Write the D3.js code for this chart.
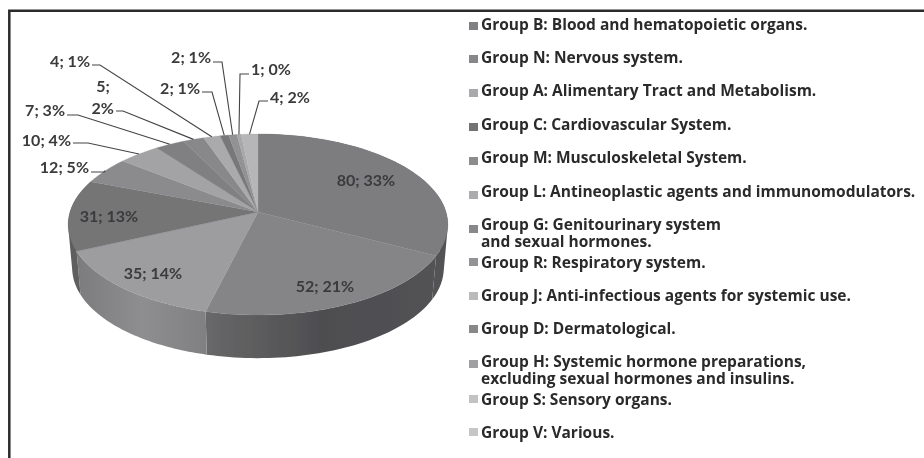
<!DOCTYPE html>
<html><head><meta charset="utf-8">
<script src="https://cdn.jsdelivr.net/npm/d3@7/dist/d3.min.js"></script>
<style>html,body{margin:0;padding:0;background:#fff}svg{display:block}</style>
</head><body><div id="c"></div>
<script>
const categories=["Group B: Blood and hematopoietic organs.","Group N: Nervous system.","Group A: Alimentary Tract and Metabolism.","Group C: Cardiovascular System.","Group M: Musculoskeletal System.","Group L: Antineoplastic agents and immunomodulators.","Group G: Genitourinary system|and sexual hormones.","Group R: Respiratory system.","Group J: Anti-infectious agents for systemic use.","Group D: Dermatological.","Group H: Systemic hormone preparations,|excluding sexual hormones and insulins.","Group S: Sensory organs.","Group V: Various."];
const values=[80,52,35,31,12,10,7,5,4,2,2,1,4];
const percents=[33,21,14,13,5,4,3,2,1,1,1,0,2];
const topColors=["#7d7d80","#858587","#9d9da0","#747476","#8b8b8d","#a3a3a6","#808082","#88888a","#aaaaad","#78787a","#929294","#a8a8aa","#b6b6b9"];
const legendColors=["#808083","#87878a","#a9a9ac","#737376","#8c8c8f","#ababae","#88888b","#939396","#bababd","#88888b","#a0a0a3","#c2c2c5","#c6c6c9"];
const wallStops=[["#525254","#525254"],["#525254","#4e4e50","#686869"],["#808082","#8e8e90","#7c7c7e"],["#666668","#5c5c5e"]];
// label layout: [text x, text y (centre), anchor, elbow x, elbow y]
const calloutLayout=[null,null,null,null,[89,167,"end",104,172],[71,140,"end",88,143],[65,110,"end",78,115],[114,97,"end",123,111],[90,61,"end",100,65],[200,88,"end",212,92],[211,57,"end",222,62],[251,69,"start",240,74],[270,97,"start",259,101]];
const insideLayout=[[366,180],[325,286],[153,273],[109,216]];
const legendRowY=[24.5,58,91,125,158,192,225,263,295.5,329,362,400,433];
const legendSwatchY=[22,55,89,123,157,191,225,258,292,325,360,395,428];

(function(){
const W=924,H=458,cx=258,cy=212,R=188,K=88.8,P=0.138,R2=184,K2=88.3,cy2=255.7;
const svg=d3.select("#c").append("svg").attr("width",W).attr("height",H);
const defs=svg.append("defs");
defs.append("filter").attr("id","soft").attr("x",0).attr("y",0).attr("width","100%").attr("height","100%")
  .append("feGaussianBlur").attr("stdDeviation",0.4);
const root=svg.append("g").attr("filter","url(#soft)");
root.append("rect").attr("width",W).attr("height",H).attr("fill","#fff");
root.append("path").attr("d",`M9.3,${H}V10.7H${W}`).attr("fill","none").attr("stroke","#2b2b2b").attr("stroke-width",2.5);

const slices=d3.pie().value(d=>d).sort(null)(values);
const proj=(a,r,k,c)=>{const u=Math.sin(a),v=-Math.cos(a),d=1-P*v;return [cx+r*u/d,c+k*v/d];};
const topPt=a=>proj(a,R,K,cy), botPt=a=>proj(a,R2,K2,cy2);
const samples=s=>d3.range(0,1.0001,0.02).map(t=>s.startAngle+t*(s.endAngle-s.startAngle));
const line=d3.line();

// side walls: the union of the small quads joining the top and bottom rims
slices.slice(0,wallStops.length).forEach((s,i)=>{
  const as=samples(s),T=as.map(topPt),B=as.map(botPt);
  const xs=T.concat(B).map(p=>p[0]),id="w"+i;
  const g=defs.append("linearGradient").attr("id",id).attr("gradientUnits","userSpaceOnUse")
    .attr("x1",d3.max(xs)).attr("x2",d3.min(xs)).attr("y1",0).attr("y2",0);
  wallStops[i].forEach((c,j,a)=>g.append("stop").attr("offset",j/(a.length-1)).attr("stop-color",c));
  const d=d3.range(as.length-1).map(j=>{
    const q=[T[j],T[j+1],B[j+1],B[j]];
    if(d3.polygonArea(q)<0) q.reverse();
    return line(q)+"Z";
  }).join("");
  root.append("path").attr("d",d).attr("fill",`url(#${id})`);
});
slices.forEach((s,i)=>{
  const pts=[[cx,cy]].concat(samples(s).map(topPt));
  root.append("path").attr("d",line(pts)+"Z").attr("fill",topColors[i]).attr("stroke",topColors[i]).attr("stroke-width",0.3);
});
const labelFont=`font-family:Lato;font-weight:700;font-size:16px;fill:#3a3a3c`;
const label=(x,y,t,a)=>root.append("text").attr("x",x).attr("y",y+5.5).attr("text-anchor",a).attr("style",labelFont).text(t);
slices.forEach((s,i)=>{
  const txt=`${values[i]}; ${percents[i]}%`;
  if(insideLayout[i]){label(insideLayout[i][0],insideLayout[i][1],txt,"middle");return;}
  const L=calloutLayout[i],mid=topPt((s.startAngle+s.endAngle)/2);
  root.append("path").attr("d",line([[L[2]==="end"?L[0]+2:L[0]-2,L[4]],[L[3],L[4]],mid]))
    .attr("fill","none").attr("stroke","#444446").attr("stroke-width",1.1);
  if(i===7){label(L[0]-11,86,`${values[i]};`,"middle");label(L[0],108,`${percents[i]}%`,"end");}
  else label(L[0],L[1],txt,L[2]);
});
categories.forEach((c,i)=>{
  root.append("rect").attr("x",469).attr("y",legendSwatchY[i]).attr("width",9).attr("height",8).attr("fill",legendColors[i]);
  c.split("|").forEach((ln,j)=>root.append("text").attr("x",481).attr("y",legendRowY[i]+5+j*17)
    .attr("style","font-family:'Open Sans';font-weight:700;font-size:15.5px;fill:#2a2a2c").text(ln));
});
})();
</script></body></html>
